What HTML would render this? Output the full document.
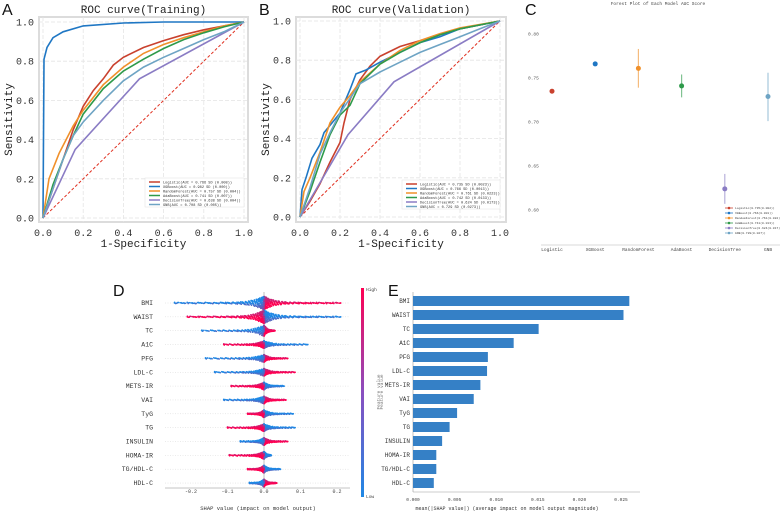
<!DOCTYPE html>
<html><head><meta charset="utf-8">
<style>
body{margin:0;background:#fff;}
svg{display:block;font-family:"Liberation Mono","Noto Serif CJK SC",monospace;}
</style></head>
<body>
<svg id="fig" width="780" height="512" viewBox="0 0 780 512" xmlns="http://www.w3.org/2000/svg">
<defs><linearGradient id="cb" x1="0" y1="1" x2="0" y2="0"><stop offset="0" stop-color="#1e88e5"/><stop offset="0.5" stop-color="#8a4fc0"/><stop offset="1" stop-color="#ff0052"/></linearGradient></defs>
</svg>
<script>
// ---------- data ----------
const modelNames=["Logistic","XGBoost","RandomForest","AdaBoost","DecisionTree","GNB"];
const modelColors=["#c9412e","#1f77c4","#f0902a","#2e9a4a","#8a7cc4","#6ea4c4"];
const trainLegend=["Logistic(AUC = 0.766 SD (0.008))","XGBoost(AUC = 0.982 SD (0.000))","RandomForest(AUC = 0.757 SD (0.004))","AdaBoost(AUC = 0.741 SD (0.007))","DecisionTree(AUC = 0.638 SD (0.004))","GNB(AUC = 0.708 SD (0.005))"];
const validLegend=["Logistic(AUC = 0.735 SD (0.0023))","XGBoost(AUC = 0.766 SD (0.0013))","RandomForest(AUC = 0.761 SD (0.0223))","AdaBoost(AUC = 0.742 SD (0.0133))","DecisionTree(AUC = 0.624 SD (0.0173))","GNB(AUC = 0.729 SD (0.0273))"];
const trainFpr=[
[0,0.05,0.1,0.15,0.2,0.25,0.3,0.35,0.4,0.5,0.6,0.7,0.8,0.9,1],
[0,0.005,0.02,0.05,0.1,0.2,0.4,0.6,1],
[0,0.03,0.08,0.15,0.2,0.3,0.4,0.5,0.6,0.7,0.8,0.9,1],
[0,0.05,0.1,0.15,0.2,0.3,0.4,0.5,0.6,0.7,0.8,0.9,1],
[0,0.16,0.48,1],
[0,0.05,0.1,0.15,0.2,0.3,0.4,0.5,0.6,0.7,0.8,0.9,1]];
const trainTpr=[
[0,0.15,0.3,0.45,0.57,0.65,0.71,0.78,0.82,0.87,0.905,0.935,0.96,0.98,1],
[0,0.81,0.87,0.92,0.95,0.98,0.995,1,1],
[0,0.2,0.33,0.47,0.55,0.68,0.77,0.84,0.885,0.92,0.95,0.98,1],
[0,0.17,0.3,0.42,0.53,0.66,0.75,0.81,0.865,0.91,0.945,0.975,1],
[0,0.35,0.71,1],
[0,0.15,0.3,0.42,0.49,0.6,0.7,0.77,0.82,0.865,0.91,0.95,1]];
const validFpr=[
[0,0.05,0.1,0.15,0.2,0.22,0.25,0.3,0.35,0.4,0.5,0.6,0.7,0.8,1],
[0,0.01,0.03,0.06,0.1,0.12,0.2,0.25,0.28,0.33,0.4,0.5,0.6,0.7,0.8,1],
[0,0.02,0.05,0.1,0.15,0.2,0.25,0.3,0.4,0.5,0.6,0.7,0.8,1],
[0,0.05,0.1,0.15,0.2,0.25,0.3,0.4,0.5,0.6,0.7,0.8,1],
[0,0.24,0.47,1],
[0,0.05,0.1,0.15,0.2,0.3,0.4,0.5,0.6,0.7,0.8,0.9,1]];
const validTpr=[
[0,0.08,0.17,0.28,0.38,0.48,0.6,0.7,0.77,0.82,0.87,0.9,0.93,0.96,1],
[0,0.14,0.2,0.3,0.37,0.43,0.53,0.65,0.73,0.75,0.79,0.84,0.89,0.92,0.96,1],
[0,0.13,0.2,0.33,0.48,0.56,0.62,0.69,0.78,0.85,0.9,0.935,0.965,1],
[0,0.13,0.28,0.42,0.52,0.57,0.68,0.78,0.84,0.89,0.93,0.96,1],
[0,0.42,0.69,1],
[0,0.15,0.32,0.43,0.53,0.68,0.74,0.79,0.84,0.88,0.92,0.96,1]];
const rocTicks=["0.0","0.2","0.4","0.6","0.8","1.0"];
const aucMean=[0.735,0.766,0.761,0.741,0.624,0.729];
const aucLow=[0.735,0.766,0.739,0.728,0.607,0.701];
const aucHigh=[0.735,0.766,0.783,0.754,0.641,0.756];
const forestTicks=[0.80,0.75,0.70,0.65,0.60];
const forestLegend=["Logistic(0.735(0.002))","XGBoost(0.766(0.001))","RandomForest(0.761(0.022))","AdaBoost(0.741(0.013))","DecisionTree(0.624(0.017))","GNB(0.729(0.027))"];
const features=["BMI","WAIST","TC","A1C","PFG","LDL-C","METS-IR","VAI","TyG","TG","INSULIN","HOMA-IR","TG/HDL-C","HDL-C"];
const shapMin=[-0.245,-0.21,-0.17,-0.11,-0.16,-0.135,-0.09,-0.11,-0.045,-0.1,-0.065,-0.095,-0.045,-0.04];
const shapMax=[0.21,0.21,0.03,0.12,0.065,0.085,0.055,0.06,0.08,0.085,0.065,0.02,0.045,0.035];
const shapDir=[1,-1,1,-1,1,1,-1,1,-1,-1,1,-1,-1,1];
const shapTicks=[-0.2,-0.1,0.0,0.1,0.2];
const meanAbs=[0.026,0.0253,0.0151,0.0121,0.0090,0.0089,0.0081,0.0073,0.0053,0.0044,0.0035,0.0028,0.0028,0.0025];
const barTicks=[0,0.005,0.010,0.015,0.020,0.025];

// ---------- helpers ----------
const svg=document.getElementById('fig');
const NS="http://www.w3.org/2000/svg";
function el(tag,attrs,parent,text){const e=document.createElementNS(NS,tag);for(const k in attrs)e.setAttribute(k,attrs[k]);if(text!==undefined)e.textContent=text;(parent||svg).appendChild(e);return e;}
function grp(name){const g=el('g',{});return g;}

// ---------- ROC panels ----------
function roc(letter,title,ox0,ox1,oy1,oy0,frame,fprs,tprs,legend,lx,ly){
  const g=grp('roc-panel-'+letter.toLowerCase());
  const sx=v=>ox0+v*(ox1-ox0), sy=v=>oy0-v*(oy0-oy1);
  el('rect',{x:frame[0],y:frame[1],width:frame[2]-frame[0],height:frame[3]-frame[1],fill:'#fff',stroke:'#dcdcdc','stroke-width':2},g);
  for(let i=0;i<=5;i++){const v=i/5;
    el('line',{x1:sx(v),x2:sx(v),y1:frame[1],y2:frame[3],stroke:'#e4e4e4','stroke-dasharray':'4,2','stroke-width':0.8},g);
    el('line',{y1:sy(v),y2:sy(v),x1:frame[0],x2:frame[2],stroke:'#e4e4e4','stroke-dasharray':'4,2','stroke-width':0.8},g);
    const t=el('text',{x:sx(v),y:frame[3]+14,'font-size':10,'text-anchor':'middle',fill:'#333'},g,rocTicks[i]);
    
    const t2=el('text',{x:frame[0]-5,y:sy(v)+3.5,'font-size':10,'text-anchor':'end',fill:'#333'},g,rocTicks[i]);
    
  }
  el('line',{x1:sx(0),y1:sy(0),x2:sx(1),y2:sy(1),stroke:'#e03020','stroke-dasharray':'3,2','stroke-width':1},g);
  for(let m=0;m<fprs.length;m++){
    const pts=fprs[m].map((f,i)=>sx(f).toFixed(1)+','+sy(tprs[m][i]).toFixed(1)).join(' ');
    const p=el('polyline',{points:pts,fill:'none',stroke:modelColors[m],'stroke-width':1.6},g);
    
  }
  const lg=el('g',{},g);
  el('rect',{x:lx,y:ly,width:ox1-lx,height:29,fill:'#fff',stroke:'#e0e0e0','stroke-width':0.5},lg);
  legend.forEach((s,i)=>{
    el('line',{x1:lx+4,x2:lx+15,y1:ly+4+i*4.5,y2:ly+4+i*4.5,stroke:modelColors[i],'stroke-width':1.5},lg);
    const t=el('text',{x:lx+18,y:ly+5.5+i*4.5,'font-size':3.6,fill:'#333'},lg,s);
    
  });
  const cx=(frame[0]+frame[2])/2;
  el('text',{x:cx,y:13,'font-size':11,'text-anchor':'middle',fill:'#222'},g,title);
  el('text',{x:cx,y:247,'font-size':11,'text-anchor':'middle',fill:'#222'},g,'1-Specificity');
  el('text',{x:0,y:0,'font-size':11,'text-anchor':'middle',fill:'#222',transform:`translate(${frame[0]-27},${(frame[1]+frame[3])/2}) rotate(-90)`},g,'Sensitivity');
  el('text',{x:frame[0]-37,y:15,'font-size':16,fill:'#111','font-family':'Liberation Sans, sans-serif'},g,letter);
}
roc('A','ROC curve(Training)',43,244,22,218,[39,17,248,222],trainFpr,trainTpr,trainLegend,145,178);
roc('B','ROC curve(Validation)',300,500,21,217,[296,17,506,222],validFpr,validTpr,validLegend,402,180);

// ---------- Forest plot ----------
(function(){
  const g=grp('forest-plot');
  const catX=i=>552+i*43.2;
  const sy=v=>34+(0.80-v)/0.05*44;
  el('text',{x:525,y:15,'font-size':16,fill:'#111','font-family':'Liberation Sans, sans-serif'},g,'C');
  el('text',{x:658,y:5,'font-size':4.5,'text-anchor':'middle',fill:'#444'},g,'Forest Plot of Each Model AUC Score');
  forestTicks.forEach(v=>{const t=el('text',{x:528,y:sy(v)+1.5,'font-size':4.5,fill:'#555'},g,v.toFixed(2));});
  el('line',{x1:541,x2:780,y1:245,y2:245,stroke:'#ccc','stroke-width':0.8},g);
  modelNames.forEach((n,i)=>{
    const t=el('text',{x:catX(i),y:251,'font-size':4.5,'text-anchor':'middle',fill:'#444'},g,n);
    const l=el('line',{x1:catX(i),x2:catX(i),y1:sy(aucHigh[i]),y2:sy(aucLow[i]),stroke:modelColors[i],'stroke-width':1.2,opacity:0.6},g);
    
    const c=el('circle',{cx:catX(i),cy:sy(aucMean[i]),r:2.5,fill:modelColors[i]},g);
    
  });
  const lg=el('g',{},g);
  forestLegend.forEach((s,i)=>{const y=208+i*5;
    el('line',{x1:725,x2:733,y1:y,y2:y,stroke:modelColors[i],'stroke-width':0.8},lg);
    el('circle',{cx:729,cy:y,r:1.3,fill:modelColors[i]},lg);
    const t=el('text',{x:735,y:y+1.1,'font-size':3,fill:'#444'},lg,s);
  });
})();

// ---------- SHAP beeswarm ----------
(function(){
  const g=grp('shap-beeswarm');
  const sx=v=>264+v*365;
  const rowY=i=>303+i*13.85;
  el('text',{x:113,y:296,'font-size':16,fill:'#111','font-family':'Liberation Sans, sans-serif'},g,'D');
  features.forEach((f,i)=>{el('line',{x1:165,x2:350,y1:rowY(i),y2:rowY(i),stroke:'#ccc','stroke-dasharray':'1,1.5','stroke-width':0.4},g);});
  el('line',{x1:264,x2:264,y1:292,y2:488,stroke:'#999','stroke-width':0.6},g);
  el('line',{x1:165,x2:350,y1:488,y2:488,stroke:'#888','stroke-width':0.5},g);
  const lowC=[30,136,229],highC=[255,0,82];
  const col=t=>'rgb('+lowC.map((c,k)=>Math.round(c+(highC[k]-c)*t)).join(',')+')';
  features.forEach((f,i)=>{
    const t=el('text',{x:153,y:rowY(i)+2,'font-size':6.5,'text-anchor':'end',fill:'#333'},g,f);
    
    const dg=el('g',{},g);
    const N=i<2?520:320;
    const maxH=i<2?6:(i<3?5:3.2);
    for(let k=0;k<N;k++){
      const u=((k*0.618034)%1);
      const w=((k*0.7548777)%1);
      const side=u<0.5?-1:1;
      const a=Math.abs(u-0.5)*2;
      const ext=side<0?-shapMin[i]:shapMax[i];
      const v=side*Math.pow(a,3.2)*ext;
      const dens=Math.exp(-Math.pow(Math.abs(v)/(0.25*ext+0.01),1.2)*2.5);
      const dy=(w-0.5)*2*(0.6+maxH*dens);
      let tv=0.5+0.5*side*shapDir[i]*Math.min(1,Math.pow(a,0.5)*1.4);
      tv=Math.max(0,Math.min(1,tv+(w-0.5)*0.5));
      el('circle',{cx:sx(v).toFixed(1),cy:(rowY(i)+dy).toFixed(1),r:0.85,fill:col(tv)},dg);
    }
    el('circle',{cx:sx(shapMin[i]),cy:rowY(i),r:0.9,fill:col(shapDir[i]>0?0:1)},dg);
    el('circle',{cx:sx(shapMax[i]),cy:rowY(i),r:0.9,fill:col(shapDir[i]>0?1:0)},dg);
  });
  shapTicks.forEach(v=>{const t=el('text',{x:sx(v),y:493,'font-size':5,'text-anchor':'middle',fill:'#444'},g,v.toFixed(1));});
  el('text',{x:258,y:510,'font-size':5.5,'text-anchor':'middle',fill:'#333'},g,'SHAP value (impact on model output)');
  const cb=el('rect',{x:361,y:288,width:3,height:209,fill:'url(#cb)'},g);
  el('text',{x:366,y:291,'font-size':4.5,fill:'#444'},g,'High');
  el('text',{x:366,y:498,'font-size':4.5,fill:'#444'},g,'Low');
  el('text',{x:0,y:0,'font-size':4.5,'text-anchor':'middle',fill:'#777',transform:'translate(380,392) rotate(-90)'},g,'Feature value');
})();

// ---------- SHAP bar ----------
(function(){
  const g=grp('shap-importance-bars');
  const sx=v=>413+v*8320;
  const rowY=i=>301+i*14;
  el('text',{x:388,y:296,'font-size':16,fill:'#111','font-family':'Liberation Sans, sans-serif'},g,'E');
  el('line',{x1:413,x2:413,y1:292,y2:492,stroke:'#999','stroke-width':0.6},g);
  el('line',{x1:413,x2:640,y1:492,y2:492,stroke:'#999','stroke-width':0.6},g);
  features.forEach((f,i)=>{
    const r=el('rect',{x:413,y:rowY(i)-5,width:sx(meanAbs[i])-413,height:10,fill:'#3580c6'},g);
    
    const t=el('text',{x:410,y:rowY(i)+2,'font-size':6,'text-anchor':'end',fill:'#333'},g,f);
    
  });
  barTicks.forEach(v=>{const t=el('text',{x:sx(v),y:501,'font-size':4.5,'text-anchor':'middle',fill:'#444'},g,v.toFixed(3));});
  el('text',{x:507,y:510,'font-size':5,'text-anchor':'middle',fill:'#333'},g,'mean(|SHAP value|) (average impact on model output magnitude)');
  el('text',{x:0,y:0,'font-size':4.5,'text-anchor':'middle',fill:'#777',transform:'translate(383,392) rotate(-90)'},g,'Feature value');
})();
</script>
</body></html>
